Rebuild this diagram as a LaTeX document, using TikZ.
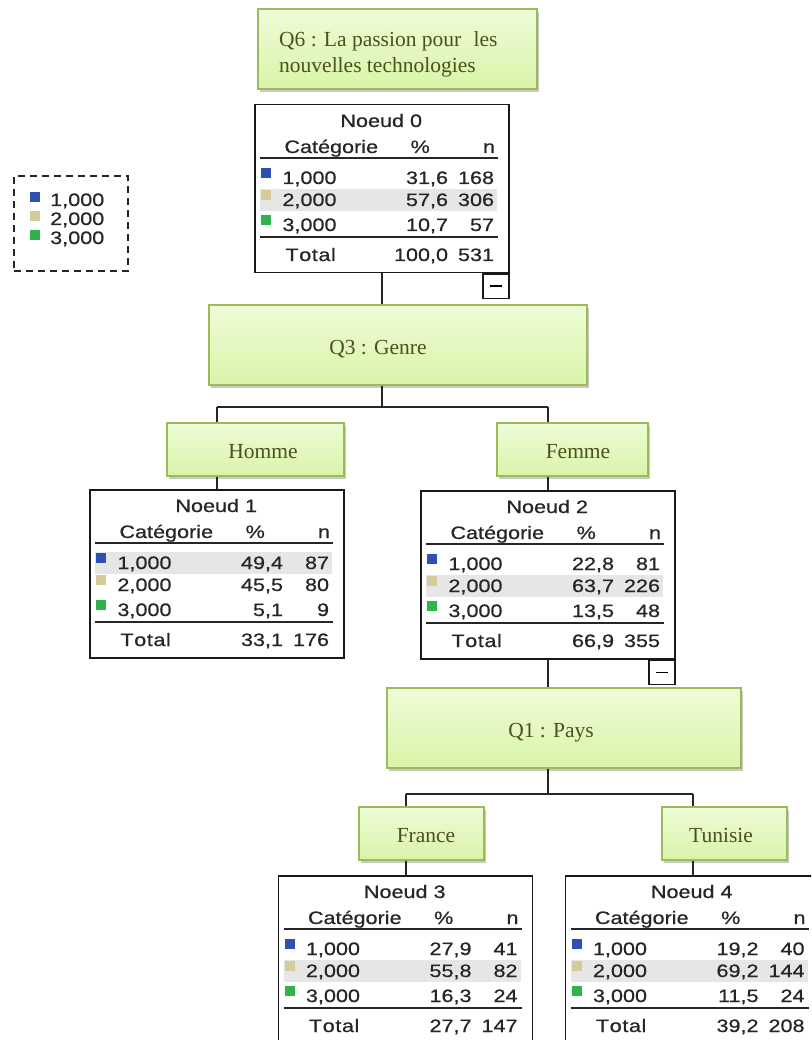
\documentclass[tikz,border=0pt]{standalone}
\usepackage{fontspec}
\setmainfont{Liberation Serif}
\newfontfamily\spssfont[FakeStretch=1.2,FakeBold=0.6]{Liberation Sans}
\usetikzlibrary{shadows,calc}
\definecolor{gborder}{HTML}{9BBB59}
\definecolor{gtop}{HTML}{EEFCD8}
\definecolor{gbot}{HTML}{D9F4A9}
\definecolor{gtxt}{HTML}{4A5119}
\definecolor{cblue}{HTML}{3050B0}
\definecolor{ctan}{HTML}{D4CB98}
\definecolor{cgreen}{HTML}{2DB34A}
\definecolor{rowgray}{HTML}{E6E6E6}
\tikzset{
  tbox/.style={draw=black!90, line width=1.5pt, fill=white, minimum width=254pt, minimum height=168pt, anchor=north, inner sep=0pt},
  minusbox/.style={draw=black!90, line width=1.5pt, fill=white, minimum width=26pt, minimum height=24pt, anchor=north east, inner sep=0pt},
  gbox/.style={draw=gborder, line width=1.3pt, top color=gtop, bottom color=gbot, inner sep=0pt,
    drop shadow={shadow xshift=2pt, shadow yshift=-3pt, opacity=0.35, fill=black!60}},
  gtext/.style={font=\fontsize{21.5}{26}\selectfont, text=gtxt, inner sep=0pt},
  st/.style={font=\spssfont\fontsize{18}{20}\selectfont, text=black!85, inner sep=0pt},
  conn/.style={draw=black!85, line width=2pt},
  rulel/.style={draw=black!85, line width=1.6pt},
}
\newcommand\pctx{194}
\newcommand\treebox[4]{%
  \node[tbox] (#1) at (#2,#3) {};
  \node[st, anchor=base] (#1-t) at ($(#1.north west)+(127,23)$) {#4};
  \node[st, anchor=base west] (#1-hc) at ($(#1.north west)+(30,49)$) {Catégorie};
  \node[st, anchor=base] (#1-hp) at ($(#1.north west)+(166,49)$) {\%};
  \node[st, anchor=base east] (#1-hn) at ($(#1.north west)+(241,49)$) {n};
  \draw[rulel] ($(#1.north west)+(6,54)$) -- ($(#1.north west)+(244,54)$);
  \draw[rulel] ($(#1.north west)+(6,133)$) -- ($(#1.north west)+(244,133)$);
}
\newcommand\tshade[2]{%
  \fill[rowgray] ($(#1.north west)+(6,#2-17)$) rectangle ($(#1.north west)+(243,#2+5)$);
}
\newcommand\trow[7]{%
  \fill[#4] ($(#1.north west)+(7,#3-16)$) rectangle ++(10,10);
  \node[st, anchor=base west] (#1-#2l) at ($(#1.north west)+(28,#3)$) {#5};
  \node[st, anchor=base east] (#1-#2p) at ($(#1.north west)+(\pctx,#3)$) {#6};
  \node[st, anchor=base east] (#1-#2n) at ($(#1.north west)+(240,#3)$) {#7};
}
\newcommand\ttotal[3]{%
  \node[st, anchor=base west] (#1-tl) at ($(#1.north west)+(31,157)$) {T\kern0.6pt o\kern0.6pt t\kern0.6pt a\kern0.6pt l};
  \node[st, anchor=base east] (#1-tp) at ($(#1.north west)+(\pctx,157)$) {#2};
  \node[st, anchor=base east] (#1-tn) at ($(#1.north west)+(240,157)$) {#3};
}
\begin{document}
\begin{tikzpicture}[x=1pt,y=-1pt]
\useasboundingbox (0,0) rectangle (811,1040);
\clip (0,0) rectangle (811,1040);
\fill[white] (0,0) rectangle (811,1040);

% legend
\node[draw=black!85, line width=1.8pt, dash pattern=on 7pt off 5pt, minimum width=114pt, minimum height=95pt, anchor=north west, inner sep=0pt] (legend) at (13,175) {};
\fill[cblue] (30,192) rectangle (40,202);
\node[st, anchor=base west] (lg1) at (50,206) {1,000};
\fill[ctan] (30,211) rectangle (40,221);
\node[st, anchor=base west] (lg2) at (50,225) {2,000};
\fill[cgreen] (30,230) rectangle (40,240);
\node[st, anchor=base west] (lg3) at (50,244) {3,000};

% green boxes
\node[gbox, minimum width=279pt, minimum height=80pt] (q6) at (397.5,49) {};
\node[gtext, anchor=base west] (q6a) at (279,47) {Q6 : La passion pour\hspace{7pt} les};
\node[gtext, anchor=base west] (q6b) at (279,73) {nouvelles technologies};

\node[gbox, minimum width=378pt, minimum height=80pt] (q3) at (398,345) {};
\node[gtext, anchor=base] (q3t) at (378,354) {Q3 : Genre};

\node[gbox, minimum width=177pt, minimum height=53pt] (hom) at (255.5,449.5) {};
\node[gtext, anchor=base] (homt) at (263,458) {Homme};
\node[gbox, minimum width=151pt, minimum height=53pt] (fem) at (572.5,449.5) {};
\node[gtext, anchor=base] (femt) at (578,458) {Femme};

\node[gbox, minimum width=354pt, minimum height=80pt] (q1) at (564,728) {};
\node[gtext, anchor=base] (q1t) at (551,737) {Q1 : Pays};

\node[gbox, minimum width=125pt, minimum height=53pt] (fra) at (421.5,833.5) {};
\node[gtext, anchor=base] (frat) at (426,842) {France};
\node[gbox, minimum width=125pt, minimum height=53pt] (tun) at (724.5,833.5) {};
\node[gtext, anchor=base] (tunt) at (721,842) {Tunisie};

% Noeud 0
\treebox{n0}{382}{104}{Noeud 0}
\tshade{n0}{102}
\trow{n0}{a}{80}{cblue}{1,000}{31,6}{168}
\trow{n0}{b}{102}{ctan}{2,000}{57,6}{306}
\trow{n0}{c}{127}{cgreen}{3,000}{10,7}{57}
\ttotal{n0}{100,0}{531}
\node[minusbox] (n0m) at (n0.south east) {};
\draw[line width=1.5pt] ($(n0m.center)+(-6,0)$) -- ($(n0m.center)+(6,0)$);

% Noeud 1
\treebox{n1}{217}{489}{Noeud 1}
\tshade{n1}{80}
\trow{n1}{a}{80}{cblue}{1,000}{49,4}{87}
\trow{n1}{b}{102}{ctan}{2,000}{45,5}{80}
\trow{n1}{c}{127}{cgreen}{3,000}{5,1}{9}
\ttotal{n1}{33,1}{176}

% Noeud 2
\treebox{n2}{548}{490}{Noeud 2}
\tshade{n2}{102}
\trow{n2}{a}{80}{cblue}{1,000}{22,8}{81}
\trow{n2}{b}{102}{ctan}{2,000}{63,7}{226}
\trow{n2}{c}{127}{cgreen}{3,000}{13,5}{48}
\ttotal{n2}{66,9}{355}
\node[minusbox] (n2m) at (n2.south east) {};
\draw[line width=1.5pt] ($(n2m.center)+(-6,0)$) -- ($(n2m.center)+(6,0)$);

% Noeud 3
\treebox{n3}{405.5}{875}{Noeud 3}
\tshade{n3}{102}
\trow{n3}{a}{80}{cblue}{1,000}{27,9}{41}
\trow{n3}{b}{102}{ctan}{2,000}{55,8}{82}
\trow{n3}{c}{127}{cgreen}{3,000}{16,3}{24}
\ttotal{n3}{27,7}{147}

% Noeud 4
\treebox{n4}{692.5}{875}{Noeud 4}
\tshade{n4}{102}
\trow{n4}{a}{80}{cblue}{1,000}{19,2}{40}
\trow{n4}{b}{102}{ctan}{2,000}{69,2}{144}
\trow{n4}{c}{127}{cgreen}{3,000}{11,5}{24}
\ttotal{n4}{39,2}{208}

% connectors
\coordinate (j1) at (382,407);
\coordinate (j1l) at (217,407);
\coordinate (j1r) at (548,407);
\coordinate (j2) at (548,794);
\coordinate (j2l) at (405.5,794);
\coordinate (j2r) at (692.5,794);
\draw[conn] (n0.south) -- (q3.north -| n0.south);
\draw[conn] (q3.south -| j1) -- (j1);
\draw[conn] (j1l) -- (j1r);
\draw[conn] (j1l) -- (hom.north -| j1l);
\draw[conn] (hom.south -| j1l) -- (n1.north);
\draw[conn] (j1r) -- (fem.north -| j1r);
\draw[conn] (fem.south -| j1r) -- (n2.north);
\draw[conn] (n2.south) -- (q1.north -| n2.south);
\draw[conn] (q1.south -| j2) -- (j2);
\draw[conn] (j2l) -- (j2r);
\draw[conn] (j2l) -- (fra.north -| j2l);
\draw[conn] (fra.south -| j2l) -- (n3.north);
\draw[conn] (j2r) -- (tun.north -| j2r);
\draw[conn] (tun.south -| j2r) -- (n4.north);
\end{tikzpicture}
\end{document}
